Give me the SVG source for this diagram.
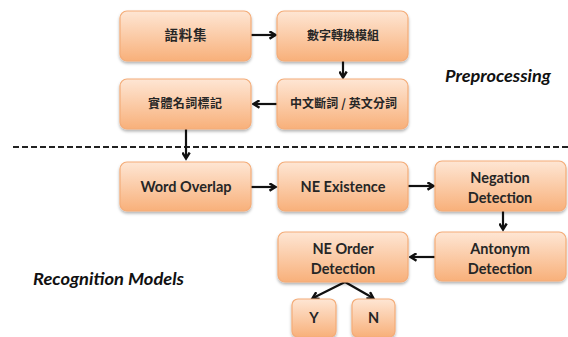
<svg xmlns="http://www.w3.org/2000/svg" width="568" height="337" viewBox="0 0 568 337">
<style>
.box{fill:url(#g);stroke:#f4ac78;stroke-width:1.2;filter:url(#sh)}
.en{font-family:Lato,"Open Sans",sans-serif;font-weight:bold;font-size:14.5px;fill:#262626;text-anchor:middle}
.zh{font-family:"Noto Sans CJK TC","Noto Sans CJK SC",sans-serif;font-weight:bold;font-size:12px;fill:#262626;text-anchor:middle}
.lbl{font-family:Lato,"Open Sans",sans-serif;font-weight:bold;font-style:italic;font-size:17px;fill:#111}
.c{fill:none;stroke:#111;stroke-width:2.2;marker-end:url(#ah)}
</style>
<defs>
<linearGradient id="g" x1="0" y1="0" x2="0" y2="1">
<stop offset="0" stop-color="#fee6d4"/>
<stop offset="1" stop-color="#f8b07a"/>
</linearGradient>
<filter id="sh" x="-10%" y="-10%" width="120%" height="130%">
<feDropShadow dx="0" dy="2" stdDeviation="1.5" flood-color="#000" flood-opacity="0.3"/>
</filter>
<marker id="ah" markerWidth="9" markerHeight="9" refX="6.5" refY="4.5" orient="auto" markerUnits="userSpaceOnUse">
<path d="M1,0.8 L7,4.5 L1,8.2" fill="none" stroke="#111" stroke-width="2.4"/>
</marker>
</defs>
<rect width="568" height="337" fill="#fff"/>
<text class="lbl" x="445" y="82" textLength="106" lengthAdjust="spacingAndGlyphs">Preprocessing</text>
<text class="lbl" x="33" y="285" textLength="151" lengthAdjust="spacingAndGlyphs">Recognition Models</text>
<line x1="13" y1="147" x2="568" y2="147" stroke="#222" stroke-width="2" stroke-dasharray="6,3"/>
<g id="connectors">
<path class="c" d="M251,35 H275"/>
<path class="c" d="M343,61 V77"/>
<path class="c" d="M277,104 H254"/>
<path class="c" d="M186,129 V158"/>
<path class="c" d="M251,187 H275"/>
<path class="c" d="M408,186 H433"/>
<path class="c" d="M503,211 V229"/>
<path class="c" d="M435,257 H411"/>
<path class="c" d="M345,282 L313,298"/>
<path class="c" d="M345,282 L373,298"/>
</g>
<g id="n1"><rect class="box" x="120" y="11" width="131" height="50" rx="7"/><text class="zh" x="185.5" y="40" style="font-size:13.5px" textLength="42" lengthAdjust="spacing">語料集</text></g>
<g id="n2"><rect class="box" x="277" y="11" width="131" height="50" rx="7"/><text class="zh" x="343" y="40" textLength="72" lengthAdjust="spacing">數字轉換模組</text></g>
<g id="n3"><rect class="box" x="277" y="79" width="131" height="50" rx="7"/><text class="zh" x="343.5" y="108" textLength="107" lengthAdjust="spacing">中文斷詞 / 英文分詞</text></g>
<g id="n4"><rect class="box" x="120" y="79" width="131" height="50" rx="7"/><text class="zh" x="185" y="108" textLength="74" lengthAdjust="spacing">實體名詞標記</text></g>
<g id="n5"><rect class="box" x="120" y="162" width="131" height="49" rx="7"/><text class="en" x="186" y="192">Word Overlap</text></g>
<g id="n6"><rect class="box" x="278" y="162" width="130" height="49" rx="7"/><text class="en" x="343" y="192">NE Existence</text></g>
<g id="n7"><rect class="box" x="435" y="161" width="131" height="50" rx="7"/><text class="en" x="500" y="183">Negation</text><text class="en" x="500" y="203">Detection</text></g>
<g id="n8"><rect class="box" x="435" y="232" width="131" height="49" rx="7"/><text class="en" x="500" y="254">Antonym</text><text class="en" x="500" y="274">Detection</text></g>
<g id="n9"><rect class="box" x="278" y="232" width="130" height="50" rx="7"/><text class="en" x="343" y="254">NE Order</text><text class="en" x="343" y="274">Detection</text></g>
<g id="n10"><rect class="box" x="292" y="299" width="44" height="38" rx="6"/><text class="en" x="314" y="323">Y</text></g>
<g id="n11"><rect class="box" x="352" y="299" width="43" height="38" rx="6"/><text class="en" x="373.5" y="323">N</text></g>
</svg>
